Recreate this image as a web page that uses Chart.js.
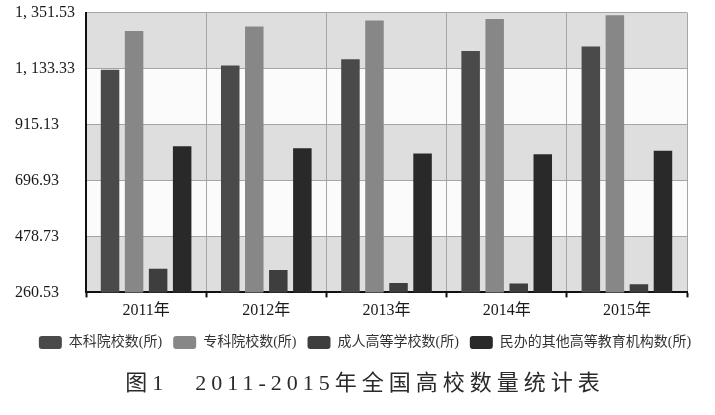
<!DOCTYPE html>
<html>
<head>
<meta charset="utf-8">
<script src="https://cdn.jsdelivr.net/npm/chart.js@4.4.1/dist/chart.umd.min.js"></script>
<style>
  html, body { margin: 0; padding: 0; background: #fff; }
  #wrap { width: 715px; height: 415px; }
</style>
</head>
<body>
<div id="wrap"><canvas id="myChart"></canvas></div>
<script>
// data
var years = ['2011年', '2012年', '2013年', '2014年', '2015年'];
var benke = [1129, 1145, 1170, 1202, 1219];
var zhuanke = [1280, 1297, 1321, 1327, 1341];
var chengren = [353, 348, 297, 295, 292];
var minban = [830, 823, 802, 799, 813];
var seriesNames = ['本科院校数(所)', '专科院校数(所)', '成人高等学校数(所)', '民办的其他高等教育机构数(所)'];
var yTickValues = [260.53, 478.73, 696.93, 915.13, 1133.33, 1351.53];
var yTickLabels = ['260.53', '478.73', '696.93', '915.13', '1, 133.33', '1, 351.53'];
var titleText = '图1\u30002011-2015年全国高校数量统计表';

Chart.defaults.font.family = "'Liberation Serif', 'Noto Sans CJK SC', serif";

// grey / white bands between the y ticks
var bands = {
    id: 'bands',
    beforeDraw: function (chart) {
        var c = chart.ctx, a = chart.chartArea, y = chart.scales.y;
        c.save();
        for (var i = 0; i < yTickValues.length - 1; i++) {
            var y0 = y.getPixelForValue(yTickValues[i]);
            var y1 = y.getPixelForValue(yTickValues[i + 1]);
            c.fillStyle = i % 2 === 0 ? '#dedede' : '#fbfbfb';
            c.fillRect(a.left, y1, a.right - a.left, y0 - y1);
        }
        c.restore();
    }
};

// space out the caption letters
var spacedTitle = {
    id: 'spacedTitle',
    afterLayout: function (chart) {
        var tb = chart.titleBlock;
        if (tb && !tb._spaced) {
            var d = tb.draw.bind(tb);
            tb.draw = function (area) {
                chart.ctx.save();
                chart.ctx.letterSpacing = '5px';
                d(area);
                chart.ctx.restore();
            };
            tb._spaced = true;
        }
    }
};

var ctx = document.getElementById('myChart').getContext('2d');

var myChart = new Chart(ctx, {
    type: 'bar',
    data: {
        labels: years,
        datasets: [{
            label: seriesNames[0],
            data: benke,
            backgroundColor: '#4a4a4a'
        }, {
            label: seriesNames[1],
            data: zhuanke,
            backgroundColor: '#878787'
        }, {
            label: seriesNames[2],
            data: chengren,
            backgroundColor: '#3e3e3e'
        }, {
            label: seriesNames[3],
            data: minban,
            backgroundColor: '#292929'
        }]
    },
    options: {
        responsive: true,
        maintainAspectRatio: false,
        animation: false,
        layout: {
            padding: { left: 15, right: 0, top: 12, bottom: 0 }
        },
        datasets: {
            bar: {
                categoryPercentage: 0.8,
                barPercentage: 0.77,
                borderWidth: 0
            }
        },
        scales: {
            x: {
                grid: {
                    color: '#a5a5a5',
                    tickColor: '#111',
                    tickLength: 5,
                    tickWidth: 2
                },
                border: { color: '#111', width: 2 },
                ticks: {
                    color: '#1a1a1a',
                    font: { size: 16 },
                    padding: 4
                }
            },
            y: {
                min: 260.53,
                max: 1351.53,
                afterBuildTicks: function (scale) {
                    scale.ticks = yTickValues.map(function (v) { return { value: v }; });
                },
                afterFit: function (scale) {
                    scale.width = 71;
                },
                grid: {
                    color: '#a5a5a5',
                    drawTicks: false
                },
                border: { color: '#111', width: 2 },
                ticks: {
                    color: '#1a1a1a',
                    font: { size: 16 },
                    crossAlign: 'far',
                    callback: function (value, index) {
                        return yTickLabels[index];
                    }
                }
            },
            // empty right margin so legend and caption centre like the original
            yRight: {
                position: 'right',
                afterFit: function (scale) {
                    scale.width = 28;
                },
                grid: { display: false },
                border: { display: false },
                ticks: { display: false }
            }
        },
        plugins: {
            legend: {
                position: 'bottom',
                labels: {
                    boxWidth: 23,
                    boxHeight: 13,
                    useBorderRadius: true,
                    borderRadius: 3,
                    padding: 11,
                    color: '#333',
                    font: { size: 14 }
                }
            },
            title: {
                display: true,
                position: 'bottom',
                text: titleText,
                color: '#2a2a2a',
                font: { size: 22, weight: 'normal' },
                padding: { top: 11, bottom: 18 }
            },
            tooltip: { enabled: false }
        }
    },
    plugins: [bands, spacedTitle]
});
</script>
</body>
</html>
